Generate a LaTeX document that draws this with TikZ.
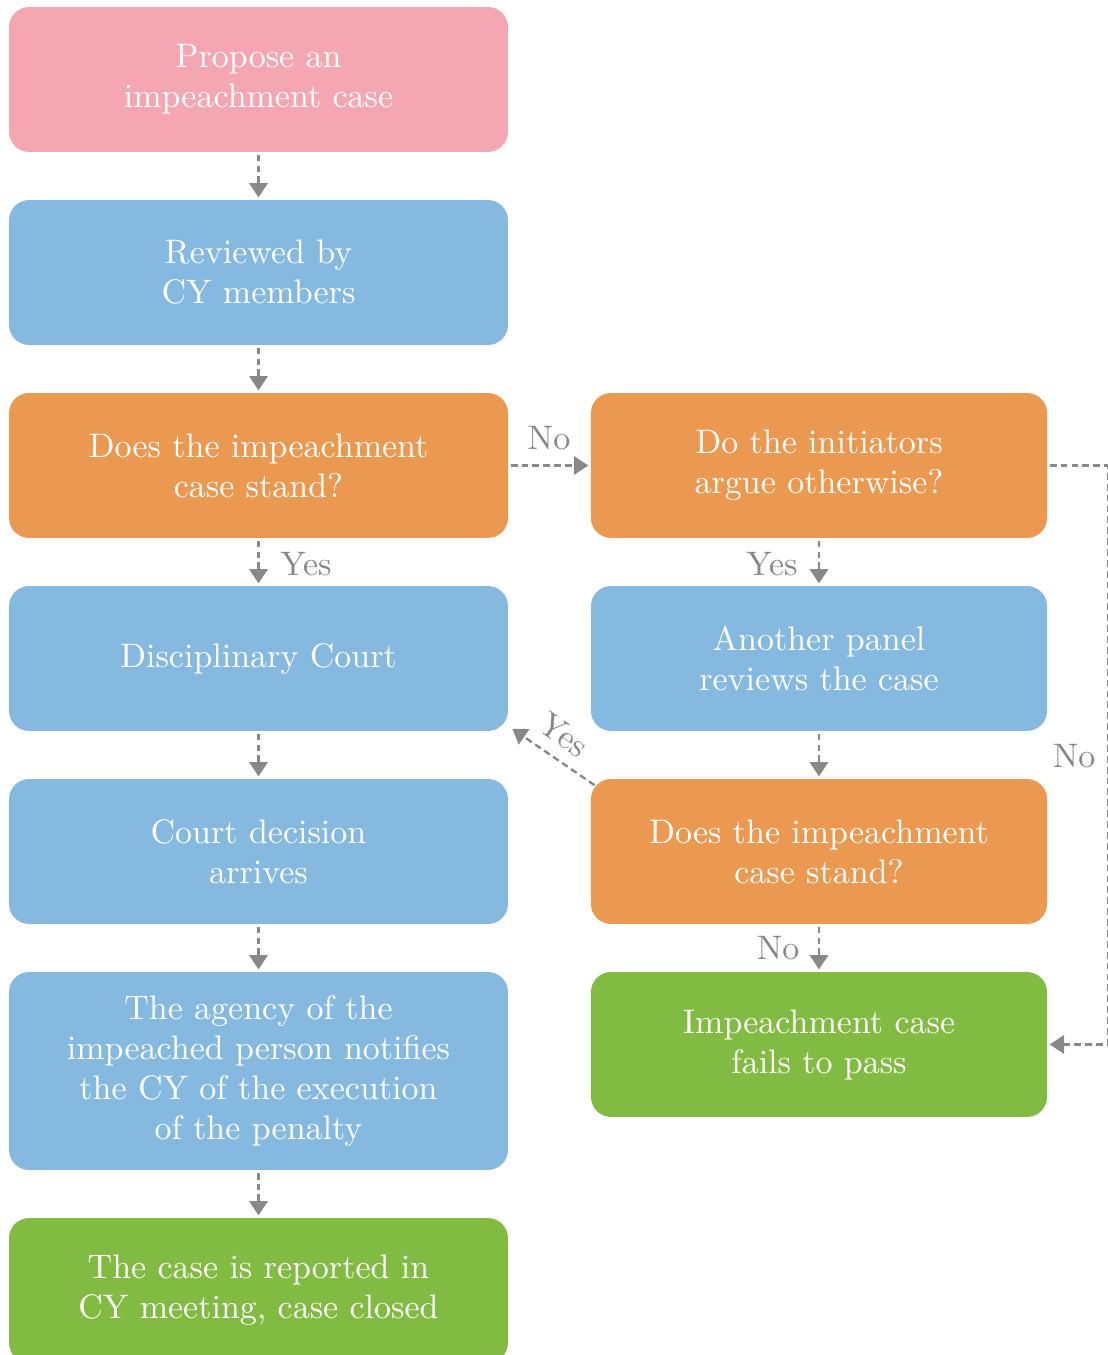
\documentclass[tikz,border=0pt]{standalone}
\usetikzlibrary{arrows.meta,calc}

\definecolor{cpink}{RGB}{244,167,178}
\definecolor{cblue}{RGB}{134,185,223}
\definecolor{corange}{RGB}{235,152,80}
\definecolor{cgreen}{RGB}{130,187,65}
\definecolor{cgray}{RGB}{136,136,136}

\begin{document}
\begin{tikzpicture}[
  x=0.294pt, y=-0.294pt,
  box/.style={rounded corners=5.9pt, inner sep=0pt, text=white, align=center,
    font=\fontsize{10}{11.76}\selectfont, minimum height=42.6pt},
  wide/.style={box, minimum width=146.7pt},
  narrow/.style={box, minimum width=134.1pt},
  arr/.style={cgray, line width=0.7pt, dash pattern=on 2pt off 1.2pt,
    -{Triangle[length=4.2pt,width=5.4pt]}, shorten <=0.6pt, shorten >=0.6pt},
  lbl/.style={text=cgray, inner sep=0pt, font=\fontsize{10}{11.76}\selectfont}
]
\useasboundingbox (0,0) rectangle (1108,1355);

% left column
\node[wide, fill=cpink]   (pr) at (258.5,79.5)  {Propose an\\impeachment case};
\node[wide, fill=cblue]   (rv) at (258.5,272.5) {Reviewed by\\CY members};
\node[wide, fill=corange] (ls) at (258.5,465.5) {Does the impeachment\\case stand?};
\node[wide, fill=cblue]   (dc) at (258.5,658.5) {Disciplinary Court};
\node[wide, fill=cblue]   (cd) at (258.5,851.5) {Court decision\\arrives};
\node[wide, fill=cblue, minimum height=58.2pt] (ag) at (258.5,1071)
  {The agency of the\\impeached person notifies\\the CY of the execution\\of the penalty};
\node[wide, fill=cgreen]  (cl) at (258.5,1290.5) {The case is reported in\\CY meeting, case closed};

% right column
\node[narrow, fill=corange] (ri) at (819,465.5) {Do the initiators\\argue otherwise?};
\node[narrow, fill=cblue]   (ap) at (819,658.5) {Another panel\\reviews the case};
\node[narrow, fill=corange] (rs) at (819,851.5) {Does the impeachment\\case stand?};
\node[narrow, fill=cgreen]  (fl) at (819,1044.5) {Impeachment case\\fails to pass};

% main flow
\draw[arr] (pr) -- (rv);
\draw[arr] (rv) -- (ls);
\draw[arr] (ls) -- (dc);
\draw[arr] (dc) -- (cd);
\draw[arr] (cd) -- (ag);
\draw[arr] (ag) -- (cl);

% review branch
\draw[arr] (ls) -- (ri);
\draw[arr] (ri) -- (ap);
\draw[arr] (ap) -- (rs);
\draw[arr] (rs) -- (fl);
\draw[arr] ($(rs.north west)+(6,8)$) -- ($(dc.south east)+(2,-4)$);
\draw[arr] (ri.east) -- ++(60,0) |- (fl.east);

% labels
\node[lbl] (l1) at (549,438) {No};
\node[lbl] (l2) at (306,564) {Yes};
\node[lbl] (l3) at (772,564) {Yes};
\node[lbl, rotate=-35] (l4) at (564,735) {Yes};
\node[lbl] (l5) at (778,948) {No};
\node[lbl] (l6) at (1074,756) {No};
\end{tikzpicture}
\end{document}
